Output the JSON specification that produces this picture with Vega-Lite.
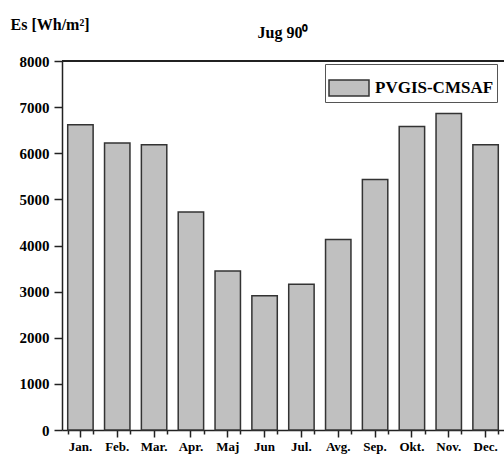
{
  "$schema": "https://vega.github.io/schema/vega-lite/v6.json",
  "autosize": {"type": "none"},
  "width": 442,
  "height": 369,
  "padding": {"left": 62, "top": 61, "right": 0, "bottom": 25},
  "background": "white",
  "config": {
    "view": {"stroke": null},
    "font": "Liberation Serif",
    "axis": {"domainColor": "#222", "tickColor": "#222", "domainWidth": 1.5, "tickWidth": 1.5, "grid": false, "labelColor": "#000", "labelFont": "Liberation Serif", "labelFontWeight": "bold"}
  },
  "title": {"text": "Jug 90⁰", "fontSize": 16, "font": "Liberation Serif", "fontWeight": "bold", "anchor": "middle", "offset": 0, "dy": 25, "color": "#000"},
  "data": {
    "values": [
      {"month": "Jan.", "es": 6617},
      {"month": "Feb.", "es": 6221},
      {"month": "Mar.", "es": 6185},
      {"month": "Apr.", "es": 4727},
      {"month": "Maj", "es": 3446},
      {"month": "Jun", "es": 2913},
      {"month": "Jul.", "es": 3158},
      {"month": "Avg.", "es": 4130},
      {"month": "Sep.", "es": 5433},
      {"month": "Okt.", "es": 6582},
      {"month": "Nov.", "es": 6863},
      {"month": "Dec.", "es": 6185}
    ]
  },
  "layer": [
    {
      "mark": {"type": "bar", "stroke": "#333", "strokeWidth": 1.5},
      "encoding": {
        "x": {
          "field": "month", "type": "nominal", "sort": null,
          "scale": {"paddingInner": 0.31, "paddingOuter": 0.155},
          "axis": {"orient": "bottom", "title": null, "labelAngle": 0, "labelFontSize": 13, "tickSize": 7, "labelPadding": 3}
        },
        "y": {
          "field": "es", "type": "quantitative",
          "scale": {"domain": [0, 8000], "nice": false},
          "axis": {
            "values": [0, 500, 1000, 1500, 2000, 2500, 3000, 3500, 4000, 4500, 5000, 5500, 6000, 6500, 7000, 7500, 8000],
            "labelExpr": "datum.value % 1000 === 0 ? datum.label : ''",
            "format": "d",
            "tickSize": {"condition": {"test": "datum.value % 1000 === 0", "value": 8}, "value": 4},
            "labelFontSize": 15,
            "labelPadding": 5,
            "title": "Es [Wh/m²]",
            "titleAngle": 0,
            "titleAlign": "left",
            "titleBaseline": "alphabetic",
            "titleX": -52,
            "titleY": -32,
            "titleFontSize": 16,
            "titleFontWeight": "bold",
            "titleFont": "Liberation Serif",
            "titleColor": "#000"
          }
        },
        "color": {
          "datum": "PVGIS-CMSAF",
          "scale": {"range": ["#c0c0c0"]},
          "legend": {
            "title": null,
            "orient": "none",
            "legendX": 263,
            "legendY": 3,
            "strokeColor": "#555",
            "padding": 3,
            "fillColor": "white",
            "symbolType": "M-1,-0.4H1V0.4H-1Z",
            "symbolSize": 1600,
            "symbolOpacity": 1,
            "labelFontSize": 17,
            "labelFontWeight": "bold",
            "labelFont": "Liberation Serif",
            "labelColor": "#000",
            "labelOffset": 5,
            "encode": {"symbols": {"update": {"stroke": {"value": "#333"}, "strokeWidth": {"value": 1.5}, "fill": {"value": "#c0c0c0"}}}}
          }
        }
      }
    },
    {
      "mark": {"type": "bar", "opacity": 0},
      "encoding": {
        "x": {
          "field": "month", "type": "nominal", "sort": null,
          "axis": {"orient": "bottom", "title": null, "labels": false, "domain": false, "tickBand": "extent", "tickSize": 4}
        },
        "y": {"field": "es", "type": "quantitative"}
      }
    },
    {
      "mark": {"type": "rule", "color": "#222", "strokeWidth": 1.5},
      "encoding": {"y": {"datum": 8000, "type": "quantitative"}}
    }
  ],
  "resolve": {"axis": {"x": "independent"}}
}
